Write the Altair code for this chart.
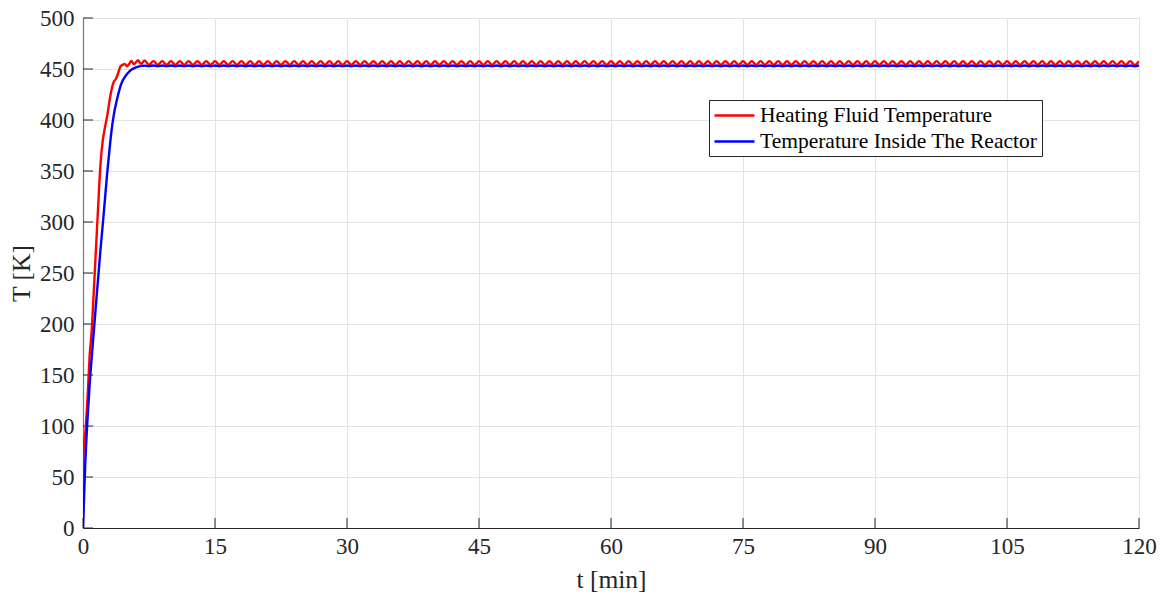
import altair as alt
import numpy as np
import pandas as pd

# Start-up transient (minutes, kelvin)
t_heat_start = [0.0, 0.05, 0.1, 0.25, 0.5, 0.75, 1.0, 1.25, 1.5, 1.75, 2.0, 2.25,
                2.5, 2.75, 3.0, 3.25, 3.5, 3.75, 4.0, 4.25, 4.5, 4.75, 5.0, 5.25,
                5.5, 5.8, 6.25, 6.6, 7.0, 7.5]
T_heat_start = [0.0, 70.0, 82.0, 92.0, 125.0, 168.0, 195.0, 236.0, 278.0, 320.0, 358.0, 380.0,
                393.0, 404.0, 418.0, 430.0, 437.5, 440.5, 446.0, 452.5, 454.0, 455.0, 452.6, 455.0,
                458.0, 454.6, 458.7, 455.0, 458.5, 454.0]

t_reac_start = [0.0, 0.25, 0.5, 0.75, 1.0, 1.25, 1.5, 1.75, 2.0, 2.25, 2.5, 2.75,
                3.0, 3.25, 3.5, 3.75, 4.0, 4.25, 4.5, 4.75, 5.0, 5.25, 5.5, 5.75,
                6.0, 6.25, 6.5, 6.75, 7.0, 7.5]
T_reac_start = [0.0, 62.0, 105.0, 140.0, 168.0, 195.0, 222.0, 248.0, 274.0, 298.0, 323.0, 348.0,
                370.0, 390.0, 405.0, 416.0, 425.0, 433.0, 438.5, 442.0, 445.0, 447.5, 449.3, 450.5,
                451.5, 452.2, 452.8, 453.1, 453.3, 452.8]

# Steady operation: samples every half minute from t = 8 to t = 120 min
t_steady = np.round(np.arange(8.0, 120.0 + 0.25, 0.5), 2)

T_heat_steady = [
    457.7, 453.9, 457.7, 453.9, 457.7, 453.9, 457.7, 453.9, 457.7, 453.9, 457.7, 453.9, 457.7, 453.9, 457.7, 453.9, 457.7, 453.9, 457.7, 453.9,
    457.7, 453.9, 457.7, 453.9, 457.7, 453.9, 457.7, 453.9, 457.7, 453.9, 457.7, 453.9, 457.7, 453.9, 457.7, 453.9, 457.7, 453.9, 457.7, 453.9,
    457.7, 453.9, 457.7, 453.9, 457.7, 453.9, 457.7, 453.9, 457.7, 453.9, 457.7, 453.9, 457.7, 453.9, 457.7, 453.9, 457.7, 453.9, 457.7, 453.9,
    457.7, 453.9, 457.7, 453.9, 457.7, 453.9, 457.7, 453.9, 457.7, 453.9, 457.7, 453.9, 457.7, 453.9, 457.7, 453.9, 457.7, 453.9, 457.7, 453.9,
    457.7, 453.9, 457.7, 453.9, 457.7, 453.9, 457.7, 453.9, 457.7, 453.9, 457.7, 453.9, 457.7, 453.9, 457.7, 453.9, 457.7, 453.9, 457.7, 453.9,
    457.7, 453.9, 457.7, 453.9, 457.7, 453.9, 457.7, 453.9, 457.7, 453.9, 457.7, 453.9, 457.7, 453.9, 457.7, 453.9, 457.7, 453.9, 457.7, 453.9,
    457.7, 453.9, 457.7, 453.9, 457.7, 453.9, 457.7, 453.9, 457.7, 453.9, 457.7, 453.9, 457.7, 453.9, 457.7, 453.9, 457.7, 453.9, 457.7, 453.9,
    457.7, 453.9, 457.7, 453.9, 457.7, 453.9, 457.7, 453.9, 457.7, 453.9, 457.7, 453.9, 457.7, 453.9, 457.7, 453.9, 457.7, 453.9, 457.7, 453.9,
    457.7, 453.9, 457.7, 453.9, 457.7, 453.9, 457.7, 453.9, 457.7, 453.9, 457.7, 453.9, 457.7, 453.9, 457.7, 453.9, 457.7, 453.9, 457.7, 453.9,
    457.7, 453.9, 457.7, 453.9, 457.7, 453.9, 457.7, 453.9, 457.7, 453.9, 457.7, 453.9, 457.7, 453.9, 457.7, 453.9, 457.7, 453.9, 457.7, 453.9,
    457.7, 453.9, 457.7, 453.9, 457.7, 453.9, 457.7, 453.9, 457.7, 453.9, 457.7, 453.9, 457.7, 453.9, 457.7, 453.9, 457.7, 453.9, 457.7, 453.9,
    457.7, 453.9, 457.7, 453.9, 457.7,
]

T_reac_steady = [
    453.5, 452.7, 453.5, 452.7, 453.5, 452.7, 453.5, 452.7, 453.5, 452.7, 453.5, 452.7, 453.5, 452.7, 453.5, 452.7, 453.5, 452.7, 453.5, 452.7,
    453.5, 452.7, 453.5, 452.7, 453.5, 452.7, 453.5, 452.7, 453.5, 452.7, 453.5, 452.7, 453.5, 452.7, 453.5, 452.7, 453.5, 452.7, 453.5, 452.7,
    453.5, 452.7, 453.5, 452.7, 453.5, 452.7, 453.5, 452.7, 453.5, 452.7, 453.5, 452.7, 453.5, 452.7, 453.5, 452.7, 453.5, 452.7, 453.5, 452.7,
    453.5, 452.7, 453.5, 452.7, 453.5, 452.7, 453.5, 452.7, 453.5, 452.7, 453.5, 452.7, 453.5, 452.7, 453.5, 452.7, 453.5, 452.7, 453.5, 452.7,
    453.5, 452.7, 453.5, 452.7, 453.5, 452.7, 453.5, 452.7, 453.5, 452.7, 453.5, 452.7, 453.5, 452.7, 453.5, 452.7, 453.5, 452.7, 453.5, 452.7,
    453.5, 452.7, 453.5, 452.7, 453.5, 452.7, 453.5, 452.7, 453.5, 452.7, 453.5, 452.7, 453.5, 452.7, 453.5, 452.7, 453.5, 452.7, 453.5, 452.7,
    453.5, 452.7, 453.5, 452.7, 453.5, 452.7, 453.5, 452.7, 453.5, 452.7, 453.5, 452.7, 453.5, 452.7, 453.5, 452.7, 453.5, 452.7, 453.5, 452.7,
    453.5, 452.7, 453.5, 452.7, 453.5, 452.7, 453.5, 452.7, 453.5, 452.7, 453.5, 452.7, 453.5, 452.7, 453.5, 452.7, 453.5, 452.7, 453.5, 452.7,
    453.5, 452.7, 453.5, 452.7, 453.5, 452.7, 453.5, 452.7, 453.5, 452.7, 453.5, 452.7, 453.5, 452.7, 453.5, 452.7, 453.5, 452.7, 453.5, 452.7,
    453.5, 452.7, 453.5, 452.7, 453.5, 452.7, 453.5, 452.7, 453.5, 452.7, 453.5, 452.7, 453.5, 452.7, 453.5, 452.7, 453.5, 452.7, 453.5, 452.7,
    453.5, 452.7, 453.5, 452.7, 453.5, 452.7, 453.5, 452.7, 453.5, 452.7, 453.5, 452.7, 453.5, 452.7, 453.5, 452.7, 453.5, 452.7, 453.5, 452.7,
    453.5, 452.7, 453.5, 452.7, 453.5,
]

x_ticks = [0, 15, 30, 45, 60, 75, 90, 105, 120]
y_ticks = [0, 50, 100, 150, 200, 250, 300, 350, 400, 450, 500]

series_names = ["Heating Fluid Temperature", "Temperature Inside The Reactor"]
series_colors = ["#ff0000", "#0000ff"]

assert len(t_steady) == len(T_heat_steady) == len(T_reac_steady)

heat = pd.DataFrame({
    "t": list(t_heat_start) + list(t_steady),
    "T": T_heat_start + T_heat_steady,
    "series": series_names[0],
    "order": 0,
})
reac = pd.DataFrame({
    "t": list(t_reac_start) + list(t_steady),
    "T": T_reac_start + T_reac_steady,
    "series": series_names[1],
    "order": 1,
})
df = pd.concat([heat, reac], ignore_index=True)

W, H = 1056, 510
FONT = "Liberation Serif"

x_scale = alt.Scale(domain=[0, 120], nice=False, zero=False)
y_scale = alt.Scale(domain=[0, 500], nice=False)

# legend swatch: a horizontal stroke four times the nominal half-width long,
# starting at the left edge of the symbol box
swatch_path = "M-1,0H3"

lines = alt.Chart(df).mark_line(strokeWidth=2.4, interpolate="monotone", clip=True).encode(
    x=alt.X("t:Q", scale=x_scale,
            axis=alt.Axis(values=x_ticks, title="t [min]", ticks=False, labelPadding=7,
                          labelFlush=False, domainColor="#262626", titlePadding=9)),
    y=alt.Y("T:Q", scale=y_scale,
            axis=alt.Axis(values=y_ticks, title="T [K]", ticks=False, labelPadding=9,
                          labelFlush=False, domainColor="#7a7a7a", titlePadding=5)),
    color=alt.Color("series:N",
                    scale=alt.Scale(domain=series_names, range=series_colors),
                    legend=alt.Legend(title=None, orient="none", legendX=626, legendY=82,
                                      symbolType=swatch_path, symbolSize=400,
                                      symbolStrokeWidth=2.5, labelFontSize=21.5,
                                      labelFont=FONT, labelColor="#000000",
                                      strokeColor="#262626", fillColor="#ffffff",
                                      padding=4, rowPadding=4, labelOffset=24,
                                      labelLimit=400)),
    detail="series:N",
    order=alt.Order("order:Q"),
)

# inward tick marks on the left and bottom axes
ytick_df = pd.DataFrame({"T": y_ticks})
xtick_df = pd.DataFrame({"t": x_ticks})
yticks = alt.Chart(ytick_df).mark_rule(color="#262626", strokeWidth=1).encode(
    y=alt.Y("T:Q", scale=y_scale), x=alt.value(0), x2=alt.value(10))
xticks = alt.Chart(xtick_df).mark_rule(color="#262626", strokeWidth=1).encode(
    x=alt.X("t:Q", scale=x_scale), y=alt.value(H - 10), y2=alt.value(H))

chart = alt.layer(yticks, xticks, lines).properties(
    width=W, height=H,
    autosize=alt.AutoSizeParams(type="none"),
    padding={"left": 83, "top": 18, "right": 24, "bottom": 66},
    background="#ffffff",
).configure_view(
    stroke=None,
).configure_axis(
    grid=True, gridColor="#e3e3e3", gridWidth=1,
    labelFont=FONT, labelFontSize=23, labelColor="#262626",
    titleFont=FONT, titleFontSize=25.5, titleColor="#262626", titleFontWeight="normal",
    domainWidth=1.2,
)

chart.save("out.html", embed_options={"renderer": "svg", "actions": False})
